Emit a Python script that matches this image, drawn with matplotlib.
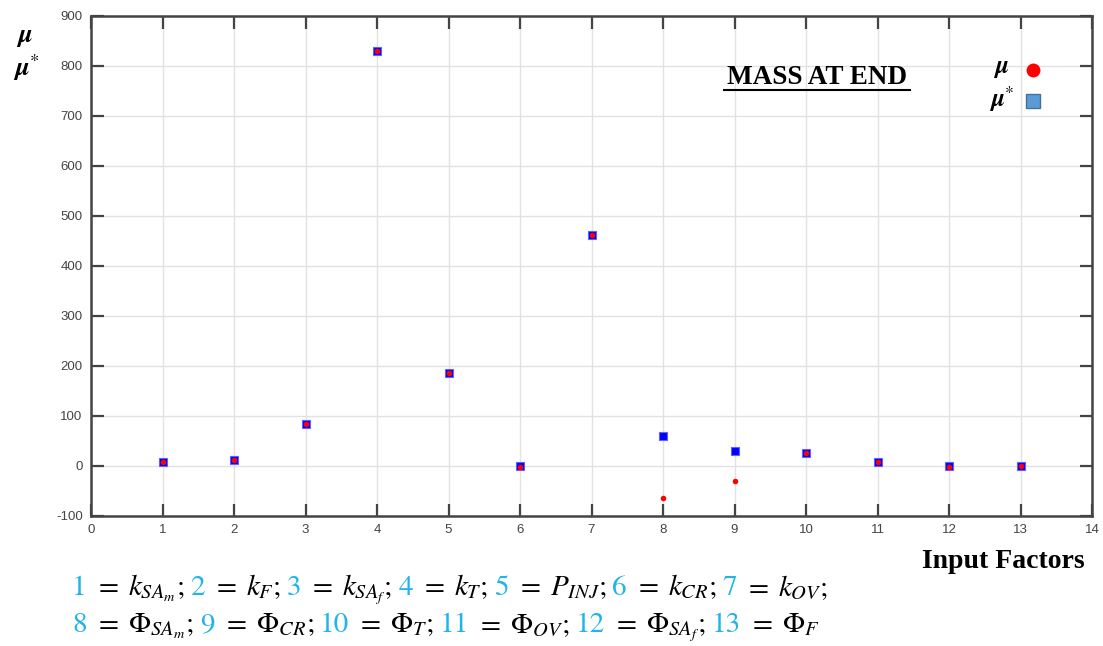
import matplotlib
matplotlib.use("Agg")
import matplotlib.pyplot as plt
from matplotlib.lines import Line2D

plt.rcParams['mathtext.fontset'] = 'stix'
plt.rcParams['axes.unicode_minus'] = False

# data
factors = [1, 2, 3, 4, 5, 6, 7, 8, 9, 10, 11, 12, 13]
mu = [9, 13, 84, 830, 186, -1, 462, -63, -30, 27, 9, -1, 1]
mu_star = [9, 13, 84, 830, 186, 1, 462, 61, 31, 27, 9, 1, 1]
xticks = list(range(0, 15))
yticks = list(range(-100, 1000, 100))

line1 = [("1", r"$\;=\;k_{SA_m};$"), ("2", r"$\;=\;k_F;$"), ("3", r"$\;=\;k_{SA_f};$"),
         ("4", r"$\;=\;k_T;$"), ("5", r"$\;=\;P_{INJ};$"), ("6", r"$\;=\;k_{CR};$"),
         ("7", r"$\;=\;k_{OV};$")]
line2 = [("8", r"$\;=\;\Phi_{SA_m};$"), ("9", r"$\;=\;\Phi_{CR};$"), ("10", r"$\;=\;\Phi_T;$"),
         ("11", r"$\;=\;\Phi_{OV};$"), ("12", r"$\;=\;\Phi_{SA_f};$"), ("13", r"$\;=\;\Phi_F$")]

cyan = '#22b4e8'
W, H = 1103, 646

fig = plt.figure(figsize=(W / 100, H / 100), dpi=100)
ax = fig.add_axes([91 / W, 1 - 516 / H, (1092 - 91) / W, (516 - 16) / H])

ax.plot(factors, mu_star, 's', color='blue', markersize=5.5, markeredgecolor='#6060ff',
        markeredgewidth=0.8, zorder=3)
ax.plot(factors, mu, 'o', color='red', markersize=4, markeredgewidth=0, zorder=4)

ax.set_xlim(0, 14)
ax.set_ylim(-100, 900)
ax.set_xticks(xticks)
ax.set_yticks(yticks)
ax.grid(True, color='#e2e2e2', linewidth=1)
ax.set_axisbelow(True)
ax.tick_params(direction='in', length=9, width=1.6, color='#444444', top=True, right=True,
               labelsize=9.5, labelcolor='#444444', pad=6)
for lab in ax.get_xticklabels() + ax.get_yticklabels():
    lab.set_family('Liberation Sans')
for s in ax.spines.values():
    s.set_color('#444444')
    s.set_linewidth(1.8)


def px(x, y):
    return x / W, 1 - y / H


# y label
fig.text(*px(24, 36), r"$\boldsymbol{\mu}$", fontsize=19, ha='center', va='center')
fig.text(*px(26, 68), r"$\boldsymbol{\mu}^{*}$", fontsize=19, ha='center', va='center')

# title
fig.text(*px(817, 77), "MASS AT END", family='Liberation Serif', fontweight='bold',
         fontsize=19.5, ha='center', va='center')
fig.add_artist(Line2D([724 / W, 910 / W], [1 - 90 / H, 1 - 90 / H], color='black',
                      linewidth=1.5, transform=fig.transFigure))

# legend
fig.text(*px(1001, 68), r"$\boldsymbol{\mu}$", fontsize=18, ha='center', va='center')
fig.text(*px(1002, 99), r"$\boldsymbol{\mu}^{*}$", fontsize=18, ha='center', va='center')
fig.add_artist(Line2D([1033 / W], [1 - 70 / H], marker='o', color='red', markersize=10,
                      markeredgewidth=0, transform=fig.transFigure))
fig.add_artist(Line2D([1033 / W], [1 - 101 / H], marker='s', color='#5b9bd5', markersize=10,
                      markeredgecolor='#41719c', markeredgewidth=1, transform=fig.transFigure))

# x label
fig.text(*px(1085, 561), "Input Factors", family='Liberation Serif', fontweight='bold',
         fontsize=20, ha='right', va='center')

# factor legend lines
renderer = fig.canvas.get_renderer()


def write_line(pieces, x0, y0):
    x = x0
    for num, expr in pieces:
        for s, c, gap in ((num, cyan, 1), (expr, 'black', 6)):
            t = fig.text(x / W, 1 - y0 / H, s, color=c, fontsize=21, family='STIXGeneral',
                         ha='left', va='baseline')
            x += t.get_window_extent(renderer).width + gap


write_line(line1, 72, 595)
write_line(line2, 72, 632)

fig.savefig("out.png", dpi=100)
